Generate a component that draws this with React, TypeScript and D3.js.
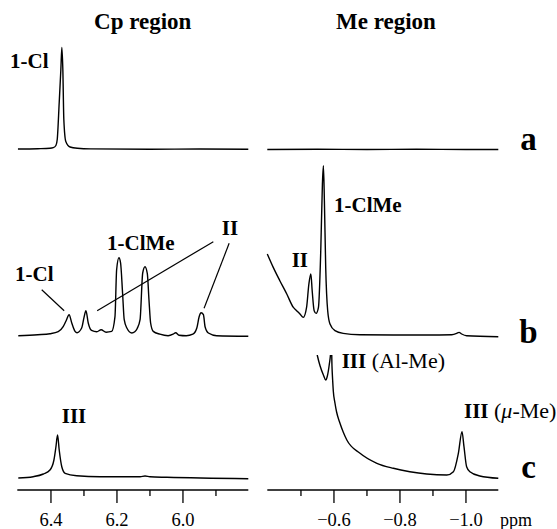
import React from "react";
import * as d3 from "d3";

const W = 557;
const H = 529;

// Spectra: [ppm, intensity]
const cpA: [number, number][] = [
  [6.5, 0.5], [6.44, 0.8], [6.403, 1.2], [6.393, 1.8], [6.385, 4], [6.381, 10],
  [6.375, 47], [6.37, 80], [6.367, 102], [6.364, 80], [6.361, 30], [6.355, 8],
  [6.342, 2.5], [6.32, 1.2], [6.28, 0.6], [6.1, 0.3], [5.95, 0.5], [5.802, 0.3],
];
const meA: [number, number][] = [
  [-0.398, 0], [-0.55, 0.3], [-0.7, 0], [-0.85, 0.3], [-1.0, 0], [-1.098, 0],
];
const cpB: [number, number][] = [
  [6.499, 0], [6.44, 1], [6.403, 2], [6.378, 4], [6.363, 9], [6.354, 15], [6.345, 21],
  [6.337, 12.7], [6.327, 4.3], [6.321, 3], [6.307, 7.7], [6.3, 18], [6.294, 25],
  [6.287, 12.7], [6.277, 5.3], [6.261, 4], [6.248, 6], [6.233, 3.5], [6.216, 4.3],
  [6.206, 19], [6.201, 66], [6.194, 78], [6.189, 72.7], [6.183, 42.7], [6.178, 16],
  [6.17, 7.7], [6.155, 2.7], [6.146, 4], [6.139, 7], [6.13, 16], [6.122, 62.7],
  [6.115, 69], [6.108, 62], [6.103, 36], [6.098, 12.7], [6.09, 4.3], [6.07, 1.5],
  [6.045, 0], [6.03, 1.5], [6.022, 3], [6.012, 0.5], [5.99, 0], [5.97, 1.5],
  [5.958, 7.7], [5.951, 19], [5.945, 23], [5.938, 21], [5.933, 9], [5.923, 2.7],
  [5.898, 0], [5.802, -0.5],
];
const meB: [number, number][] = [
  [-0.398, 81.7], [-0.416, 68.3], [-0.436, 55], [-0.457, 41.7], [-0.477, 28.3],
  [-0.487, 25], [-0.497, 21.7], [-0.507, 18.3], [-0.517, 28.3], [-0.524, 51.7],
  [-0.53, 61.7], [-0.534, 45], [-0.54, 25], [-0.546, 22.3], [-0.553, 28.3],
  [-0.56, 85], [-0.565, 151.7], [-0.568, 170], [-0.571, 135], [-0.575, 68.3],
  [-0.581, 25], [-0.588, 11.7], [-0.603, 5], [-0.628, 2.3], [-0.679, 1],
  [-0.78, 0.7], [-0.881, 0.7], [-0.957, 1], [-0.972, 2.3], [-0.979, 3.3],
  [-0.987, 1.7], [-1.002, 0], [-1.098, -1],
];
const cpC: [number, number][] = [
  [6.499, 0], [6.454, 1.3], [6.423, 4], [6.403, 8], [6.391, 18], [6.385, 31],
  [6.38, 43], [6.375, 28], [6.367, 11], [6.357, 4.7], [6.322, 2.3], [6.251, 1.3],
  [6.13, 1.3], [6.115, 2], [6.1, 1.2], [6.049, 0.7], [5.802, -0.7],
];
const meC: [number, number][] = [
  [-0.544, 132], [-0.55, 122], [-0.558, 112], [-0.568, 103], [-0.575, 98],
  [-0.58, 102], [-0.586, 114], [-0.59, 126], [-0.592, 140], [-0.594, 112],
  [-0.596, 98], [-0.598, 87], [-0.603, 75], [-0.608, 66], [-0.618, 55],
  [-0.628, 46], [-0.639, 38], [-0.679, 24.7], [-0.73, 14.7], [-0.78, 9.7],
  [-0.83, 6.3], [-0.881, 4], [-0.942, 3], [-0.962, 6.3], [-0.977, 24.7],
  [-0.988, 46.3], [-0.994, 31.3], [-1.002, 11.3], [-1.012, 6.3], [-1.042, 2],
  [-1.098, -0.3],
];

const cpMajorTicks = [6.4, 6.2, 6.0];
const cpMinorTicks = [6.3, 6.1, 5.9];
const meMajorTicks = [-0.6, -0.8, -1.0];
const meMinorTicks = [-0.5, -0.7, -0.9];
const rowLetters = ["a", "b", "c"];
const regionTitles = ["Cp region", "Me region"];

const FONT = "Liberation Serif, DejaVu Serif, Times New Roman, serif";

export default function App() {
  const xCp = d3.scaleLinear().domain([6.502, 5.802]).range([17.3, 248.3]);
  const xMe = d3.scaleLinear().domain([-0.398, -1.098]).range([267.3, 498.3]);
  const baselines = [149.5, 335.7, 478];
  const yRow = baselines.map((b) => d3.scaleLinear().domain([0, 100]).range([b, b - 100]));

  const mk = (x: d3.ScaleLinear<number, number>, y: d3.ScaleLinear<number, number>) =>
    d3
      .line<[number, number]>()
      .x((d) => x(d[0]))
      .y((d) => y(d[1]))
      .curve(d3.curveMonotoneX);

  const traces = [
    { d: mk(xCp, yRow[0])(cpA), clip: undefined },
    { d: mk(xMe, yRow[0])(meA), clip: undefined },
    { d: mk(xCp, yRow[1])(cpB), clip: undefined },
    { d: mk(xMe, yRow[1])(meB), clip: undefined },
    { d: mk(xCp, yRow[2])(cpC), clip: undefined },
    { d: mk(xMe, yRow[2])(meC), clip: "url(#clipC)" },
  ];

  const axisY = 490;
  const labelY = 526;
  const fmt = (v: number) => (v < 0 ? "\u2212" + Math.abs(v).toFixed(1) : v.toFixed(1));

  const bold = { fontFamily: FONT, fontWeight: 700 };
  const reg = { fontFamily: FONT };
  const yb = yRow[1];

  return (
    <svg
      width={W}
      height={H}
      style={{ position: "absolute", left: 0, top: 0, background: "#fff" }}
    >
      <defs>
        <clipPath id="clipC">
          <rect x={260} y={355} width={250} height={140} />
        </clipPath>
      </defs>
      {/* titles */}
      <text x={142.7} y={29} textAnchor="middle" style={{ ...bold, fontSize: 23 }}>
        {regionTitles[0]}
      </text>
      <text x={386} y={29} textAnchor="middle" style={{ ...bold, fontSize: 23 }}>
        {regionTitles[1]}
      </text>

      {/* traces */}
      {traces.map((t, i) => (
        <path
          key={i}
          d={t.d || ""}
          fill="none"
          stroke="#000"
          strokeWidth={1.4}
          strokeLinejoin="round"
          clipPath={t.clip}
        />
      ))}

      {/* row letters */}
      {rowLetters.map((l, i) => (
        <text
          key={l}
          x={528.5}
          y={[150, 343, 478][i]}
          textAnchor="middle"
          style={{ ...bold, fontSize: 33 }}
        >
          {l}
        </text>
      ))}

      {/* peak labels */}
      <text x={10} y={68} style={{ ...bold, fontSize: 21 }}>1-Cl</text>
      <text x={15} y={281} style={{ ...bold, fontSize: 21 }}>1-Cl</text>
      <text x={107} y={250} style={{ ...bold, fontSize: 21 }}>1-ClMe</text>
      <text x={230} y={235} textAnchor="middle" style={{ ...bold, fontSize: 21 }}>II</text>
      <text x={291.7} y={267} style={{ ...bold, fontSize: 21 }}>II</text>
      <text x={334} y={212} style={{ ...bold, fontSize: 21 }}>1-ClMe</text>
      <text x={74} y={423} textAnchor="middle" style={{ ...bold, fontSize: 21 }}>III</text>
      <text x={341.7} y={368} style={{ ...reg, fontSize: 22 }}>
        <tspan style={{ fontWeight: 700, fontSize: 21 }}>III</tspan>
        <tspan> (Al-Me)</tspan>
      </text>
      <text x={464} y={418} style={{ ...reg, fontSize: 22 }}>
        <tspan style={{ fontWeight: 700, fontSize: 21 }}>III</tspan>
        <tspan> (</tspan>
        <tspan style={{ fontStyle: "italic" }}>μ</tspan>
        <tspan>-Me)</tspan>
      </text>

      {/* leader lines */}
      <g stroke="#000" strokeWidth={1.2}>
        <line x1={xCp(6.428)} y1={yb(46)} x2={xCp(6.36)} y2={yb(25)} />
        <line x1={xCp(5.908)} y1={yb(94)} x2={xCp(6.26)} y2={yb(25)} />
        <line x1={xCp(5.86)} y1={yb(92.4)} x2={xCp(5.936)} y2={yb(27.4)} />
      </g>

      {/* axes */}
      {[
        { x: xCp, major: cpMajorTicks, minor: cpMinorTicks },
        { x: xMe, major: meMajorTicks, minor: meMinorTicks },
      ].map((a, i) => (
        <g key={i}>
          <line
            x1={a.x.range()[0]}
            x2={a.x.range()[1]}
            y1={axisY}
            y2={axisY}
            stroke="#000"
            strokeWidth={1.5}
          />
          {a.major.map((t) => (
            <g key={"M" + t}>
              <line x1={a.x(t)} x2={a.x(t)} y1={axisY} y2={axisY + 13} stroke="#000" strokeWidth={1.3} />
              <text x={a.x(t)} y={labelY} textAnchor="middle" style={{ ...reg, fontSize: 18.5 }}>
                {fmt(t)}
              </text>
            </g>
          ))}
          {a.minor.map((t) => (
            <line key={"m" + t} x1={a.x(t)} x2={a.x(t)} y1={axisY} y2={axisY + 6} stroke="#000" strokeWidth={1.3} />
          ))}
        </g>
      ))}
      <text x={500} y={labelY} style={{ ...reg, fontSize: 18 }}>ppm</text>
    </svg>
  );
}
